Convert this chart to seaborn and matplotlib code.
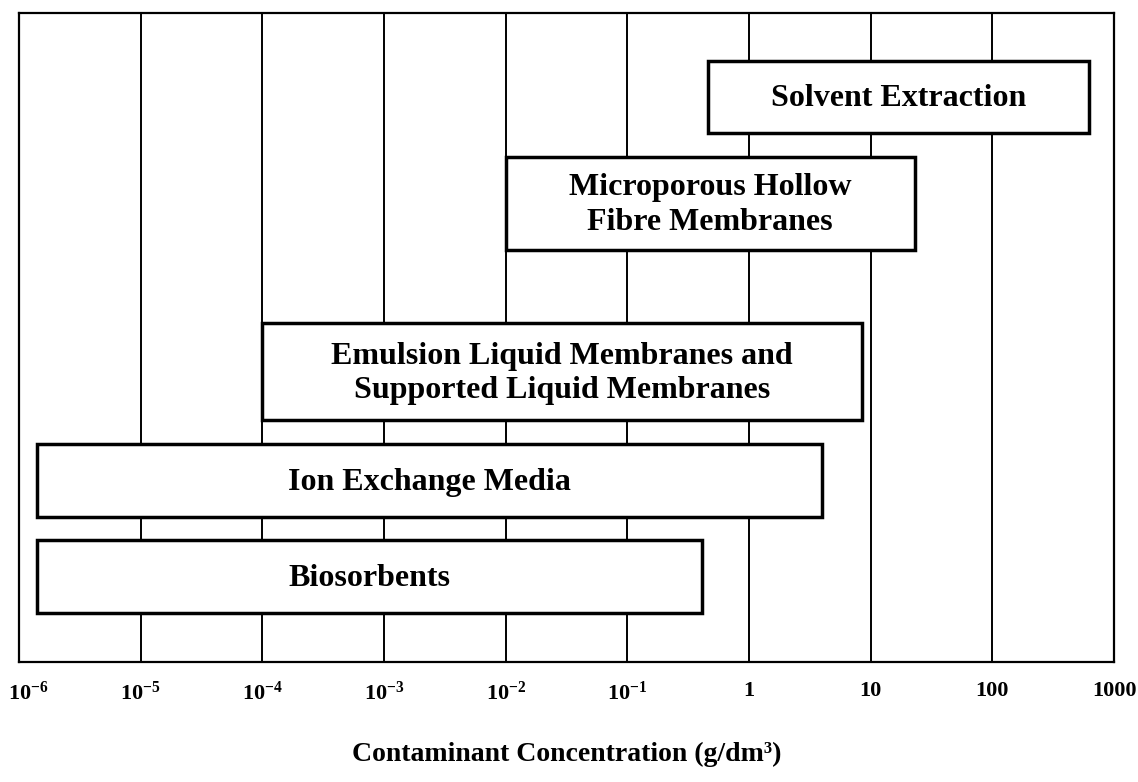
import matplotlib
matplotlib.use("Agg")
import matplotlib.pyplot as plt
import matplotlib.transforms as mtransforms
import seaborn as sns

# separation technologies and their working concentration ranges (g/dm3)
techniques = ["Solvent Extraction",
              "Microporous Hollow\nFibre Membranes",
              "Emulsion Liquid Membranes and\nSupported Liquid Membranes",
              "Ion Exchange Media",
              "Biosorbents"]
conc_low = [0.46, 0.01, 1e-4, 1.4e-6, 1.4e-6]
conc_high = [620, 23, 8.5, 4.0, 0.41]

tick_values = [1e-6, 1e-5, 1e-4, 1e-3, 1e-2, 1e-1, 1, 10, 100, 1000]
tick_labels = ["$10^{-6}$", "$10^{-5}$", "$10^{-4}$", "$10^{-3}$", "$10^{-2}$",
               "$10^{-1}$", "1", "10", "100", "1000"]

# box layout (vertical centre, height) on a 0-10 scale
box_y = [8.71, 7.07, 4.48, 2.80, 1.32]
box_h = [1.11, 1.43, 1.49, 1.12, 1.12]

sns.set_theme(style="white")
plt.rcParams['font.family'] = ['Liberation Serif', 'DejaVu Serif']
plt.rcParams['mathtext.fontset'] = 'custom'
plt.rcParams['mathtext.rm'] = 'Liberation Serif:bold'
plt.rcParams['mathtext.default'] = 'rm'
plt.rcParams['text.color'] = 'black'
plt.rcParams['xtick.color'] = 'black'
plt.rcParams['axes.labelcolor'] = 'black'

fig = plt.figure(figsize=(11.38, 7.82), dpi=100)
ax = fig.add_axes([19 / 1138, 1 - 662 / 782, 1095 / 1138, 649 / 782])

ax.set_xscale('log')
ax.set_xlim(1e-6, 1e3)
ax.set_ylim(0, 10)

for v in tick_values[1:-1]:
    ax.axvline(v, color='black', lw=1.4, zorder=1)

widths = [h - l for l, h in zip(conc_low, conc_high)]
ax.barh(box_y, widths, left=conc_low, height=box_h, color='white',
        edgecolor='black', linewidth=2.5, zorder=3)

for name, l, h, y in zip(techniques, conc_low, conc_high, box_y):
    xc = (l * h) ** 0.5
    ax.text(xc, y - 0.03, name, ha='center', va='center', fontsize=23,
            fontweight='bold', linespacing=1.24, color='black', zorder=4)

ax.set_xticks(tick_values)
ax.set_xticklabels(tick_labels)
ax.minorticks_off()
ax.set_yticks([])
ax.tick_params(axis='x', length=0, pad=14, labelsize=16)
labels = ax.get_xticklabels()
for lab in labels:
    lab.set_fontweight('bold')
# first label sits a little inside the frame
labels[0].set_transform(labels[0].get_transform() +
                        mtransforms.ScaledTranslation(9 / 100, 0, fig.dpi_scale_trans))

for s in ax.spines.values():
    s.set_color('black')
    s.set_linewidth(1.6)

ax.set_xlabel("Contaminant Concentration (g/dm³)", fontsize=20,
              fontweight='bold', labelpad=27)

fig.savefig("out.png", dpi=100, facecolor='white')
